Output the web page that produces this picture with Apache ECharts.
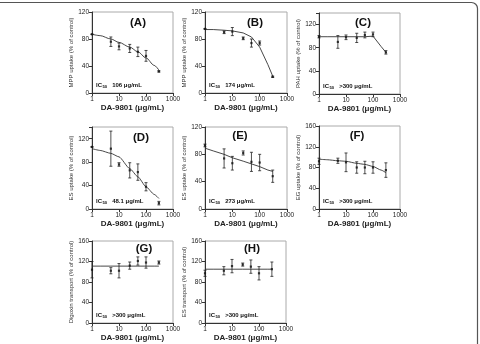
<!DOCTYPE html>
<html>
<head>
<meta charset="utf-8">
<script src="https://cdn.jsdelivr.net/npm/echarts@6/dist/echarts.min.js"></script>
<style>
  html, body { margin: 0; padding: 0; background: #fff; }
  #chart { width: 480px; height: 344px; }
</style>
</head>
<body>
<div id="chart"></div>
<script>
// concentrations tested (µg/mL) and the x positions read for the fitted curves
const conc = [1, 5, 10, 25, 50, 100, 300];
const fitConc = [1, 2, 5, 10, 25, 50, 100, 200, 300];
const xTicks = [1, 10, 100, 1000];

// (A) MPP uptake
const meanA = [87, 76, 69, 66, 61, 55, 32];
const sdA = [0, 7, 5, 6, 7, 8, 1];
const fitA = [87, 85, 80, 75, 68, 61, 52, 41, 34];
// (B) MPP uptake
const meanB = [95, 90, 91, 81, 74, 74, 24];
const sdB = [0, 2, 6, 2, 6, 3, 1];
const fitB = [94, 94, 93, 92, 89, 83, 68, 42, 25];
// (C) PAH uptake
const meanC = [99, 90, 98, 97, 102, 103, 72];
const sdC = [2, 11, 4, 8, 5, 4, 3];
const fitC = [99, 99, 99, 99, 99, 99, 100, 82, 72];
// (D) ES uptake
const meanD = [106, 103, 76, 66, 63, 38, 10];
const sdD = [0, 30, 3, 13, 14, 7, 3];
const fitD = [103, 100, 95, 89, 69, 55, 38, 25, 18];
// (E) ES uptake
const meanE = [93, 74, 67, 82, 69, 68, 48];
const sdE = [2, 14, 10, 3, 14, 12, 9];
const fitE = [89, 85, 80, 75, 70, 66, 62, 57, 55];
// (F) EG uptake
const meanF = [92, 93, 90, 80, 80, 80, 75];
const sdF = [6, 5, 18, 11, 12, 11, 14];
const fitF = [96, 95, 93, 92, 88, 86, 82, 75, 70];
// (G) Digoxin transport
const meanG = [104, 102, 102, 112, 121, 118, 118];
const sdG = [16, 6, 14, 7, 8, 11, 3];
const fitG = [111, 111, 111, 111, 111, 111, 111, 111, 111];
// (H) ES transport
const meanH = [97, 102, 111, 114, 110, 97, 105];
const sdH = [6, 8, 13, 3, 13, 13, 14];
const fitH = [105, 105, 105, 105, 105, 105, 105, 105, 105];

const panelLabels = ["(A)", "(B)", "(C)", "(D)", "(E)", "(F)", "(G)", "(H)"];
const yTitles = [
  "MPP uptake (% of control)",
  "MPP uptake (% of control)",
  "PAH uptake (% of control)",
  "ES uptake (% of control)",
  "ES uptake (% of control)",
  "EG uptake (% of control)",
  "Digoxin transport (% of control)",
  "ES transport (% of control)",
];
const ic50Values = ["106", "174", ">300", "48.1", "273", ">300", ">300", ">300"];
const yMax = [120, 120, 140, 140, 120, 160, 160, 160];
const xTitle = "DA-9801 (μg/mL)";

const means = [meanA, meanB, meanC, meanD, meanE, meanF, meanG, meanH];
const sds = [sdA, sdB, sdC, sdD, sdE, sdF, sdG, sdH];
const fits = [fitA, fitB, fitC, fitD, fitE, fitF, fitG, fitH];

// plot boxes in pixels
const boxes = [
  { l: 92, t: 12, w: 81, h: 81, gap: 12, xGap: 11, lab: [138, 23], smooth: 0.3 },
  { l: 205, t: 12, w: 82, h: 81, gap: 12, xGap: 11, lab: [255, 23], smooth: false },
  { l: 319, t: 13, w: 81, h: 81, gap: 13, xGap: 11, lab: [363, 23], smooth: false },
  { l: 92, t: 127, w: 81, h: 82, gap: 17, xGap: 10, lab: [141, 138], smooth: 0.2 },
  { l: 205, t: 127, w: 82, h: 82, gap: 12, xGap: 10, lab: [240, 136], smooth: false },
  { l: 319, t: 126, w: 81, h: 83, gap: 13, xGap: 10, lab: [357, 136], smooth: 0.2 },
  { l: 92, t: 241, w: 81, h: 82, gap: 17, xGap: 11, lab: [144, 249], smooth: false },
  { l: 205, t: 241, w: 81, h: 82, gap: 17, xGap: 11, lab: [252, 249], smooth: false },
];

const FONT = "'Liberation Sans', Arial, sans-serif";
const ink = "#222";

function renderErr(params, api) {
  const x = api.value(0);
  const lo = api.coord([x, api.value(1)]);
  const hi = api.coord([x, api.value(2)]);
  const cap = 1.5;
  const st = { stroke: "#222", lineWidth: 0.8 };
  return {
    type: "group",
    children: [
      { type: "line", shape: { x1: lo[0], y1: lo[1], x2: hi[0], y2: hi[1] }, style: st },
      { type: "line", shape: { x1: lo[0] - cap, y1: lo[1], x2: lo[0] + cap, y2: lo[1] }, style: st },
      { type: "line", shape: { x1: hi[0] - cap, y1: hi[1], x2: hi[0] + cap, y2: hi[1] }, style: st },
    ],
  };
}

const grid = [], xAxis = [], yAxis = [], series = [], graphic = [];

boxes.forEach((b, i) => {
  grid.push({ left: b.l, top: b.t, width: b.w, height: b.h, show: true, borderColor: "#aaa", borderWidth: 1 });

  xAxis.push({
    type: "log", gridIndex: i, min: 1, max: 1000, logBase: 10,
    axisLine: { lineStyle: { color: "#333", width: 1 } },
    axisTick: { length: 3, lineStyle: { color: "#333" } },
    axisLabel: { fontSize: 6.5, color: ink, margin: 3, fontFamily: FONT,
      formatter: (v) => (xTicks.includes(Math.round(v)) ? String(Math.round(v)) : "") },
    splitLine: { show: false },
    name: xTitle, nameLocation: "middle", nameGap: b.xGap,
    nameTextStyle: { fontSize: 8, fontWeight: "bold", color: ink, fontFamily: FONT },
  });

  yAxis.push({
    type: "value", gridIndex: i, min: 0, max: yMax[i], interval: 40,
    axisLine: { show: true, lineStyle: { color: "#333", width: 1 } },
    axisTick: { show: true, length: 3, lineStyle: { color: "#333" } },
    axisLabel: { fontSize: 6.5, color: ink, margin: 3, fontFamily: FONT,
      formatter: (v) => (v % 40 === 0 ? String(v) : "") },
    splitLine: { show: false },
    name: yTitles[i], nameLocation: "middle", nameGap: b.gap, nameRotate: 90,
    nameTextStyle: { fontSize: 6, color: "#333", fontFamily: FONT },
  });

  series.push({
    type: "line", xAxisIndex: i, yAxisIndex: i,
    data: fitConc.map((x, j) => [x, fits[i][j]]),
    showSymbol: false, smooth: b.smooth, smoothMonotone: "x",
    lineStyle: { color: "#333", width: 0.9 }, silent: true, z: 2,
  });
  series.push({
    type: "custom", xAxisIndex: i, yAxisIndex: i,
    data: conc.map((x, j) => [x, means[i][j] - sds[i][j], means[i][j] + sds[i][j]]),
    encode: { x: 0, y: [1, 2] },
    renderItem: renderErr, silent: true, z: 3,
  });
  series.push({
    type: "scatter", xAxisIndex: i, yAxisIndex: i,
    data: conc.map((x, j) => [x, means[i][j]]),
    symbol: "rect", symbolSize: 2.2, itemStyle: { color: "#111" }, silent: true, z: 4,
  });

  graphic.push({
    type: "text", x: b.lab[0], y: b.lab[1],
    style: { text: panelLabels[i], fontSize: 11.5, fontWeight: "bold", fill: "#111",
      fontFamily: FONT, align: "center", verticalAlign: "middle" },
  });
  graphic.push({
    type: "text", x: b.l + 4, y: b.t + b.h - 8,
    style: {
      text: "{a|IC}{s|50}{a|   " + ic50Values[i] + " μg/mL}",
      verticalAlign: "middle", fontFamily: FONT,
      rich: {
        a: { fontSize: 6, fontWeight: "bold", fill: "#111", fontFamily: FONT },
        s: { fontSize: 4.2, fontWeight: "bold", fill: "#111", fontFamily: FONT, padding: [3, 0, 0, 0.5] },
      },
    },
  });
});

// outer figure frame
graphic.push({
  type: "rect", shape: { x: -6, y: 2.5, width: 483.5, height: 360, r: 6 },
  style: { fill: "none", stroke: "#555", lineWidth: 1.2 }, silent: true,
});

const chart = echarts.init(document.getElementById("chart"), null, { renderer: "canvas" });
chart.setOption({
  animation: false,
  backgroundColor: "#fff",
  textStyle: { fontFamily: FONT },
  grid, xAxis, yAxis, series, graphic,
});
</script>
</body>
</html>
